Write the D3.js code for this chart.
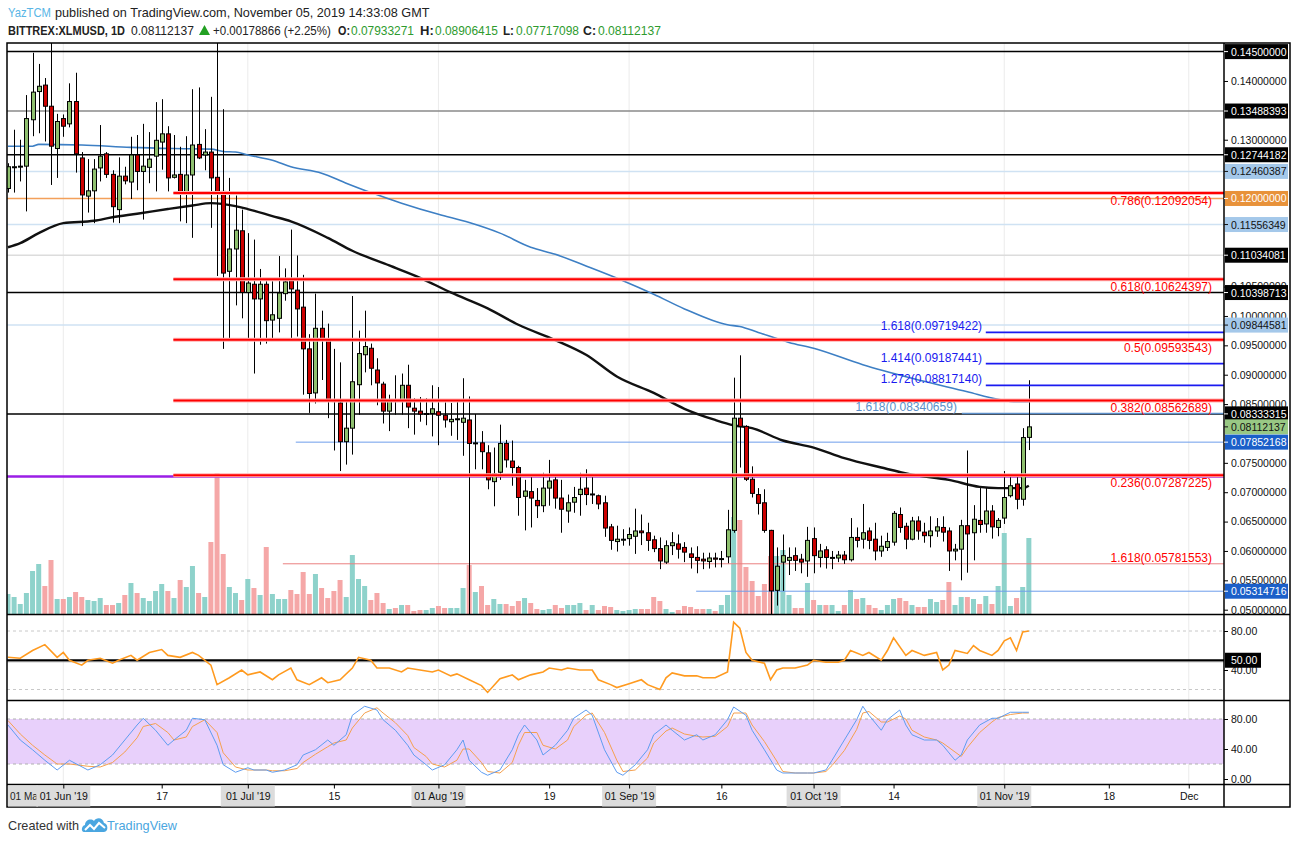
<!DOCTYPE html>
<html><head><meta charset="utf-8">
<script src="https://cdn.jsdelivr.net/npm/d3@7/dist/d3.min.js"></script>
<style>
html,body{margin:0;padding:0;background:#fff;}
svg{display:block;font-family:"Liberation Sans",Arial,sans-serif;}
</style></head><body>
<svg id="chart" width="1294" height="842"></svg>
<script>
// ---------------- DATA ----------------
const firstDay = "2019-05-23"; // daily candles, consecutive days
const opens = [
0.1217,0.1253,0.1254,0.1255,0.1334,0.1382,0.1393,0.1357,0.1285,0.1336,
0.1327,0.1365,0.1269,0.1204,0.1213,0.1252,0.1276,0.1241,0.1181,0.1238,
0.1228,0.1274,0.1246,0.1253,0.1272,0.1296,0.1310,0.1236,0.1241,0.1210,
0.1240,0.1292,0.1274,0.1279,0.1236,0.1212,0.1076,0.1114,0.1145,0.1040,
0.1054,0.1029,0.1054,0.0993,0.0996,0.1038,0.1060,0.1044,0.1015,0.0944,
0.0869,0.0979,0.0959,0.0856,0.0852,0.0786,0.0809,0.0883,0.0934,0.0945,
0.0908,0.0884,0.0838,0.0856,0.0856,0.0882,0.0843,0.0838,0.0833,0.0834,
0.0837,0.0831,0.0820,0.0824,0.0819,0.0823,0.0783,0.0784,0.0767,0.0718,
0.0734,0.0783,0.0753,0.0742,0.0693,0.0701,0.0686,0.0677,0.0707,0.0721,
0.0690,0.0668,0.0683,0.0696,0.0707,0.0697,0.0694,0.0682,0.0641,0.0616,
0.0620,0.0621,0.0625,0.0634,0.0631,0.0619,0.0604,0.0581,0.0609,0.0612,
0.0606,0.0595,0.0589,0.0586,0.0582,0.0588,0.0587,0.0590,0.0635,0.0826,
0.0812,0.0722,0.0696,0.0682,0.0635,0.0533,0.0581,0.0584,0.0592,0.0586,
0.0583,0.0621,0.0589,0.0602,0.0589,0.0588,0.0593,0.0585,0.0623,0.0620,
0.0634,0.0620,0.0600,0.0606,0.0615,0.0662,0.0642,0.0620,0.0651,0.0632,
0.0626,0.0634,0.0640,0.0634,0.0600,0.0603,0.0643,0.0631,0.0652,0.0646,
0.0668,0.0640,0.0656,0.0694,0.0714,0.0688,0.07933271];
const highs = [
0.1260,0.1317,0.1300,0.1376,0.1448,0.1429,0.1405,0.1520,0.1344,0.1343,
0.1396,0.1414,0.1279,0.1267,0.1267,0.1325,0.1279,0.1248,0.1270,0.1254,
0.1305,0.1308,0.1327,0.1313,0.1364,0.1369,0.1323,0.1308,0.1288,0.1306,
0.1386,0.1389,0.1318,0.1373,0.1520,0.1352,0.1235,0.1205,0.1181,0.1141,
0.1130,0.1080,0.1059,0.1059,0.1102,0.1081,0.1147,0.1103,0.1070,0.0969,
0.1038,0.1009,0.0987,0.0944,0.0921,0.0857,0.1034,0.0975,0.1009,0.0953,
0.0928,0.0888,0.0866,0.0899,0.0902,0.0917,0.0860,0.0862,0.0860,0.0882,
0.0879,0.0853,0.0852,0.0856,0.0894,0.0863,0.0833,0.0804,0.0780,0.0776,
0.0815,0.0789,0.0788,0.0745,0.0721,0.0727,0.0707,0.0733,0.0755,0.0726,
0.0721,0.0696,0.0709,0.0733,0.0739,0.0727,0.0696,0.0694,0.0646,0.0643,
0.0637,0.0640,0.0672,0.0662,0.0648,0.0626,0.0623,0.0618,0.0632,0.0628,
0.0615,0.0606,0.0608,0.0597,0.0597,0.0597,0.0600,0.0670,0.0895,0.0933,
0.0814,0.0744,0.0707,0.0705,0.0636,0.0606,0.0628,0.0606,0.0606,0.0595,
0.0641,0.0640,0.0612,0.0608,0.0600,0.0600,0.0600,0.0656,0.0640,0.0680,
0.0640,0.0648,0.0626,0.0631,0.0668,0.0674,0.0648,0.0658,0.0659,0.0648,
0.0659,0.0656,0.0659,0.0640,0.0612,0.0653,0.0771,0.0678,0.0707,0.0707,
0.0678,0.0656,0.0736,0.0730,0.0730,0.0809,0.08906415];
const lows = [
0.1210,0.1210,0.1229,0.1178,0.1306,0.1311,0.1297,0.1223,0.1235,0.1305,
0.1321,0.1244,0.1153,0.1176,0.1158,0.1229,0.1235,0.1159,0.1158,0.1224,
0.1199,0.1214,0.1164,0.1226,0.1212,0.1249,0.1212,0.1234,0.1161,0.1158,
0.1133,0.1267,0.1248,0.1150,0.1068,0.0944,0.0959,0.1018,0.0996,0.0959,
0.0902,0.0951,0.0953,0.0959,0.0972,0.1026,0.0962,0.0965,0.0866,0.0835,
0.0851,0.0891,0.0826,0.0771,0.0736,0.0747,0.0764,0.0832,0.0904,0.0882,
0.0848,0.0817,0.0804,0.0832,0.0832,0.0809,0.0798,0.0820,0.0814,0.0795,
0.0780,0.0810,0.0796,0.0789,0.0762,0.0480,0.0739,0.0739,0.0705,0.0676,
0.0721,0.0742,0.0711,0.0660,0.0635,0.0640,0.0656,0.0666,0.0677,0.0672,
0.0631,0.0648,0.0665,0.0660,0.0678,0.0680,0.0671,0.0624,0.0602,0.0599,
0.0609,0.0609,0.0595,0.0610,0.0600,0.0598,0.0569,0.0578,0.0593,0.0587,
0.0581,0.0570,0.0562,0.0569,0.0570,0.0572,0.0572,0.0579,0.0631,0.0742,
0.0719,0.0691,0.0662,0.0631,0.0485,0.0507,0.0532,0.0559,0.0566,0.0562,
0.0556,0.0562,0.0572,0.0570,0.0569,0.0581,0.0578,0.0582,0.0606,0.0604,
0.0603,0.0584,0.0590,0.0600,0.0609,0.0631,0.0603,0.0618,0.0619,0.0614,
0.0606,0.0624,0.0616,0.0566,0.0584,0.0550,0.0563,0.0584,0.0631,0.0631,
0.0621,0.0625,0.0646,0.0691,0.0671,0.0677,0.07717098];
const closes = [
0.1254,0.1254,0.1255,0.1336,0.1381,0.1391,0.1357,0.1289,0.1331,0.1323,
0.1365,0.1276,0.1206,0.1213,0.1250,0.1272,0.1241,0.1186,0.1238,0.1230,
0.1274,0.1246,0.1255,0.1267,0.1299,0.1310,0.1235,0.1240,0.1210,0.1240,
0.1291,0.1269,0.1279,0.1235,0.1207,0.1073,0.1114,0.1146,0.1040,0.1056,
0.1029,0.1054,0.0992,0.1002,0.1039,0.1058,0.1046,0.1012,0.0944,0.0868,
0.0979,0.0961,0.0856,0.0855,0.0786,0.0809,0.0888,0.0936,0.0948,0.0911,
0.0886,0.0838,0.0856,0.0855,0.0882,0.0845,0.0838,0.0833,0.0834,0.0842,
0.0831,0.0823,0.0824,0.0825,0.0826,0.0783,0.0784,0.0769,0.0721,0.0731,
0.0783,0.0755,0.0742,0.0691,0.0702,0.0690,0.0677,0.0707,0.0719,0.0690,
0.0671,0.0682,0.0691,0.0705,0.0696,0.0697,0.0680,0.0639,0.0618,0.0620,
0.0620,0.0628,0.0634,0.0631,0.0618,0.0604,0.0583,0.0609,0.0614,0.0603,
0.0598,0.0589,0.0584,0.0583,0.0588,0.0586,0.0587,0.0636,0.0826,0.0812,
0.0722,0.0698,0.0681,0.0635,0.0532,0.0574,0.0592,0.0589,0.0584,0.0581,
0.0618,0.0592,0.0600,0.0589,0.0589,0.0593,0.0585,0.0623,0.0618,0.0631,
0.0618,0.0600,0.0608,0.0616,0.0664,0.0640,0.0620,0.0651,0.0634,0.0626,
0.0634,0.0641,0.0632,0.0600,0.0603,0.0643,0.0629,0.0654,0.0645,0.0668,
0.0641,0.0652,0.0691,0.0711,0.0688,0.0793,0.08112137];
const volumes = [
20,17,10,21,43,50,28,54,15,15,
17,22,17,14,13,16,9,9,11,19,
31,21,16,13,23,30,23,16,34,27,
48,21,17,72,141,60,27,21,14,35,
26,19,67,20,15,15,24,20,42,20,
40,26,16,23,34,17,59,35,28,14,
21,11,5,6,9,9,3,4,4,6,
8,6,6,6,26,49,22,28,9,15,
10,10,8,13,16,11,5,4,5,9,
6,9,9,11,4,9,4,8,7,4,
3,4,5,5,5,17,13,5,2,4,
8,7,5,5,5,3,9,19,97,94,
47,33,18,30,58,58,64,19,6,6,
31,14,9,9,9,3,9,24,15,16,
9,6,4,9,15,16,13,9,7,7,
15,12,14,32,9,17,17,15,10,18,
10,28,81,8,16,27,76];

// moving averages (day offset from 2019-06-01, value)
const ma200Day = [-9,-5,-4,3,11,18,24,26,28,30,34,37,42,46,50,55,61,66,71,76,80,85,91,96,101,108,110,113,118,122,130,138,147,152,155,157];
const ma200Val = [0.1289,0.1289,0.1292,0.1291,0.1287,0.1285,0.1284,0.1280,0.1279,0.1274,0.1265,0.1254,0.1243,0.1226,0.1210,0.1192,0.1173,0.1159,0.1141,0.1117,0.1105,0.1085,0.1060,0.1037,0.1012,0.0985,0.0982,0.0972,0.0955,0.0945,0.0917,0.0894,0.0871,0.0858,0.0854,0.0854];
const ma100Day = [-9,-7,-4,0,5,8,12,17,21,24,28,30,34,37,43,47,53,58,63,69,74,80,85,90,96,101,106,109,112,117,122,127,133,138,144,149,152,156,157];
const ma100Val = [0.1117,0.1124,0.1141,0.1158,0.1162,0.1168,0.1174,0.1182,0.1188,0.1192,0.1187,0.1182,0.1170,0.1161,0.1133,0.1111,0.1086,0.1065,0.1040,0.1013,0.0985,0.0959,0.0934,0.0897,0.0869,0.0842,0.0823,0.0814,0.0809,0.0788,0.0776,0.0758,0.0742,0.0730,0.0721,0.0709,0.0707,0.0707,0.0711];

// RSI (day offset from 2019-06-01, value)
const rsiDay = [-9,-7,-5,-3,-1,0,1,3,4,6,8,9,11,12,14,16,17,19,21,22,24,25,27,29,30,32,34,35,37,38,40,42,43,45,47,48,50,51,53,55,56,58,60,61,63,64,66,68,69,71,73,74,76,78,79,81,82,84,86,87,89,90,92,94,95,97,98,99,101,103,104,106,108,109,110,111,112,114,115,116,117,119,121,122,124,126,127,128,130,131,133,134,135,137,138,140,142,143,144,145,147,148,149,151,152,153,154,155,156,157];
const rsiVal = [53,52,60,66,53,58,50,45,50,52,47,50,55,50,58,61,55,53,58,55,45,25,32,40,35,38,30,35,42,30,25,32,27,30,42,53,50,42,42,38,42,40,38,40,34,36,30,24,17,31,35,30,35,38,42,40,42,40,40,30,25,22,26,30,25,20,32,37,34,34,32,32,38,89,83,58,50,47,30,40,42,42,45,50,48,48,50,60,55,58,50,60,73,55,60,55,58,40,45,60,57,65,60,55,60,70,73,60,79,80];

// Stochastic RSI (day offset from 2019-06-01)
const stDay = [-9,-7,-5,-3,-1,1,4,6,8,10,12,13,15,17,18,20,21,23,25,26,28,30,31,33,34,36,38,39,41,43,44,46,47,49,51,52,54,56,57,59,60,62,64,65,66,68,69,71,73,74,75,77,78,80,82,83,85,86,88,90,91,93,95,96,98,99,101,103,104,106,108,109,111,112,114,116,117,119,121,122,124,125,127,129,130,131,133,134,136,137,138,140,142,143,145,146,147,149,151,152,154,156,157];
const stK = [72,52,39,25,12,25,12,19,32,52,72,81,65,45,52,65,81,79,45,19,9,15,12,12,9,12,19,32,39,52,45,59,85,97,92,79,65,45,32,19,12,19,39,52,25,9,5,12,39,59,72,52,32,45,65,81,92,85,39,9,5,19,39,59,72,65,52,59,52,59,79,96,85,65,39,12,8,8,8,8,12,25,52,79,97,85,65,79,92,72,59,52,52,45,25,32,52,72,81,81,89,89,89];
const stD = [78,60,45,32,20,20,17,16,22,36,55,70,74,62,52,56,70,79,62,35,16,12,12,12,11,11,14,22,33,43,48,52,68,88,95,88,75,58,42,30,20,16,25,40,40,22,10,8,22,45,62,62,45,40,52,70,85,88,62,25,10,12,28,48,64,68,60,57,56,57,70,88,88,72,50,24,10,8,8,8,10,18,38,66,88,90,76,76,84,80,65,56,52,48,36,30,42,62,76,82,86,88,88];

// price-axis plain tick labels (those not hidden by marker boxes in the reference)
const priceTicks = [0.05,0.055,0.06,0.065,0.07,0.075,0.085,0.09,0.095,0.10,0.105,0.13,0.14];
// price-axis marker labels
const markerVals = [0.145,0.13488393,0.12744182,0.12460387,0.12,0.11556349,0.11034081,0.10398713,0.09844581,0.08333315,0.08112137,0.07852168,0.05314716];
const markerKind = ["black","black","black","lightblue","orange","lightblue","black","black","lightblue","black","green","blue","blue"];
// fib levels
const fibRedRatio = ["0.786","0.618","0.5","0.382","0.236"];
const fibRedVal = [0.12092054,0.10624397,0.09593543,0.08562689,0.07287225];
const fibBlueRatio = ["1.618","1.414","1.272"];
const fibBlueVal = [0.09719422,0.09187441,0.08817140];
const xTickDates = ["2019-06-01","2019-06-17","2019-07-01","2019-07-15","2019-08-01","2019-08-19","2019-09-01","2019-09-16","2019-10-01","2019-10-14","2019-11-01","2019-11-18","2019-12-01"];
const xTickLabels = ["01 Jun '19","17","01 Jul '19","15","01 Aug '19","19","01 Sep '19","16","01 Oct '19","14","01 Nov '19","18","Dec"];

// ---------------- CHART ----------------
const svg = d3.select("#chart");
const DAY = 864e5;
const t0 = Date.UTC(2019,5,1);
const kDate = k => new Date(t0 + k*DAY);
const d0 = Date.parse(firstDay + "T00:00:00Z");
const dates = opens.map((_, i) => new Date(d0 + i*DAY));
const L = 7, R = 1224, RR = 1290, T = 43, B1 = 614.5, B2 = 700.5, B3 = 784.5, B4 = 807;

const x = d3.scaleUtc().domain([kDate(0), kDate(183)]).range([63.3, 1188.75]);
const y = d3.scaleLinear().domain([0.05, 0.145]).range([609.7, 51.6]);
const yVol = d3.scaleLinear().domain([0, 141]).range([614, 473]);
const yRsi = d3.scaleLinear().domain([20, 80]).range([689.5, 631]);
const ySt = d3.scaleLinear().domain([0, 80]).range([779, 719]);

const defs = svg.append("defs");
const clip = (id, x0, y0, w, h) => defs.append("clipPath").attr("id", id).append("rect").attr("x", x0).attr("y", y0).attr("width", w).attr("height", h);
clip("cMain", L, T, R - L, B1 - T);
clip("cRsi", L, B1, R - L, B2 - B1);
clip("cSt", L, B2, R - L, B3 - B2);

// header: each piece is drawn at 13px and horizontally condensed to the measured width
const hdr = svg.append("g").style("font-size", "13px");
const ht = (txt, x0, w, opts = {}) => {
  const yy = opts.y || 17;
  const t = hdr.append("text").attr("x", 0).attr("y", 0).text(txt).attr("fill", opts.fill || "#222");
  if (opts.bold) t.attr("font-weight", "bold");
  const nat = t.node().getComputedTextLength() || w;
  t.attr("transform", `translate(${x0},${yy}) scale(${Math.min(1, w / nat)},1)`);
};
ht("YazTCM", 8, 43, {fill: "#5ab6e6"});
ht("published on TradingView.com, November 05, 2019 14:33:08 GMT", 55, 375);
ht("BITTREX:XLMUSD, 1D", 8, 117, {y: 35, bold: true});
ht("0.08112137", 131, 63, {y: 35});
hdr.append("path").attr("d", "M199,35 L204.5,25 L210,35 Z").attr("fill", "#22a022");
ht("+0.00178866 (+2.25%)", 213, 118, {y: 35});
ht("O:", 338, 12, {y: 35, bold: true});
ht("0.07933271", 351, 63, {y: 35, fill: "#2e9b2e"});
ht("H:", 420, 14, {y: 35, bold: true});
ht("0.08906415", 435, 63, {y: 35, fill: "#2e9b2e"});
ht("L:", 503, 11, {y: 35, bold: true});
ht("0.07717098", 516, 63, {y: 35, fill: "#2e9b2e"});
ht("C:", 583, 13, {y: 35, bold: true});
ht("0.08112137", 598, 63, {y: 35, fill: "#2e9b2e"});

// month gridlines
const monthLines = ["2019-06-01","2019-07-01","2019-08-01","2019-09-01","2019-10-01","2019-11-01","2019-12-01"].map(s => new Date(s + "T00:00:00Z"));
svg.append("g").selectAll("line").data(monthLines).join("line")
  .attr("x1", d => x(d)).attr("x2", d => x(d)).attr("y1", T).attr("y2", B3)
  .attr("stroke", "#ebebeb").attr("stroke-width", 1);

// ---- main panel
const gMain = svg.append("g").attr("clip-path", "url(#cMain)");
const bw = 5;
// volume
gMain.append("g").selectAll("rect").data(volumes).join("rect")
  .attr("x", (d, i) => x(dates[i]) - bw / 2).attr("width", bw)
  .attr("y", d => yVol(d)).attr("height", d => yVol(0) - yVol(d))
  .attr("fill", (d, i) => closes[i] >= opens[i] ? "#8ed2cb" : "#f5a7a7");

// horizontal reference lines (full width)
const fullLines = [
  [0.145, "#000", 1.5], [0.13488393, "#8a8a8a", 1.5], [0.12744182, "#000", 1.5],
  [0.12460387, "#cfe2f3", 1.5], [0.12, "#f3a05a", 1.5], [0.11556349, "#cfe2f3", 1.5],
  [0.11034081, "#dcdcdc", 1.5], [0.10398713, "#000", 1.5], [0.09844581, "#cfe2f3", 1.5],
  [0.08333315, "#000", 1.5], [0.07268, "#9a1ee6", 2.5]];
const gLines = gMain.append("g");
fullLines.forEach(([v, c, w]) => gLines.append("line").attr("x1", L).attr("x2", R)
  .attr("y1", y(v)).attr("y2", y(v)).attr("stroke", c).attr("stroke-width", w));
// partial lines [value, colour, width, start day offset]
const partLines = [[0.07852168, "#6d9eeb", 1, 37.8], [0.05314716, "#6d9eeb", 1, 102.9], [0.05781553, "#ea8080", 1, 35.7],
  [0.08340659, "#5b8fc9", 1.5, 146.1]];
partLines.forEach(([v, c, w, k]) => gLines.append("line").attr("x1", x(kDate(k))).attr("x2", R)
  .attr("y1", y(v)).attr("y2", y(v)).attr("stroke", c).attr("stroke-width", w));

// moving averages
const line = d3.line().curve(d3.curveMonotoneX);
gMain.append("path").attr("d", line(ma200Day.map((k, i) => [x(kDate(k)), y(ma200Val[i])])))
  .attr("fill", "none").attr("stroke", "#3d7fc4").attr("stroke-width", 1.6);
gMain.append("path").attr("d", line(ma100Day.map((k, i) => [x(kDate(k)), y(ma100Val[i])])))
  .attr("fill", "none").attr("stroke", "#111").attr("stroke-width", 2.4);

// candles
const gC = gMain.append("g");
gC.selectAll("line").data(opens).join("line")
  .attr("x1", (d, i) => Math.round(x(dates[i])) + 0.5).attr("x2", (d, i) => Math.round(x(dates[i])) + 0.5)
  .attr("y1", (d, i) => y(highs[i])).attr("y2", (d, i) => y(lows[i]))
  .attr("stroke", "#000").attr("stroke-width", 1);
gC.selectAll("rect").data(opens).join("rect")
  .attr("x", (d, i) => Math.round(x(dates[i])) - 1.5).attr("width", 4)
  .attr("y", (d, i) => y(Math.max(opens[i], closes[i])))
  .attr("height", (d, i) => Math.max(1, Math.abs(y(opens[i]) - y(closes[i]))))
  .attr("fill", (d, i) => closes[i] >= opens[i] ? "#8fc06f" : "#cc0000")
  .attr("stroke", "#000").attr("stroke-width", 1);

// red fib lines
const fibStart = x(kDate(17.9));
fibRedVal.forEach((v, i) => {
  gMain.append("line").attr("x1", fibStart).attr("x2", R).attr("y1", y(v)).attr("y2", y(v))
    .attr("stroke", "#ffb3b3").attr("stroke-width", 4);
  gMain.append("line").attr("x1", fibStart).attr("x2", R).attr("y1", y(v)).attr("y2", y(v))
    .attr("stroke", "#ff0000").attr("stroke-width", 2);
  gMain.append("text").attr("x", R - 12).attr("y", y(v) + 12).attr("text-anchor", "end")
    .attr("fill", "#ff0000").style("font-size", "12px").text(`${fibRedRatio[i]}(${v.toFixed(8)})`);
});
gMain.append("text").attr("x", R - 12).attr("y", y(0.05781553) - 2).attr("text-anchor", "end")
  .attr("fill", "#ff0000").style("font-size", "12px").text("1.618(0.05781553)");
// blue fib lines
fibBlueVal.forEach((v, i) => {
  gMain.append("line").attr("x1", x(kDate(150))).attr("x2", R).attr("y1", y(v)).attr("y2", y(v))
    .attr("stroke", "#1a1af0").attr("stroke-width", 1.8);
  gMain.append("text").attr("x", x(kDate(149.4))).attr("y", y(v) - 2).attr("text-anchor", "end")
    .attr("fill", "#1a1af0").style("font-size", "12px").text(`${fibBlueRatio[i]}(${v.toFixed(8)})`);
});
gMain.append("text").attr("x", x(kDate(145.3))).attr("y", y(0.08340659) - 2).attr("text-anchor", "end")
  .attr("fill", "#5b8fc9").style("font-size", "12px").text("1.618(0.08340659)");

// ---- RSI panel
const gR = svg.append("g").attr("clip-path", "url(#cRsi)");
[80, 20].forEach(v => gR.append("line").attr("x1", L).attr("x2", R).attr("y1", yRsi(v)).attr("y2", yRsi(v))
  .attr("stroke", "#c8c8c8").attr("stroke-dasharray", "3,3"));
gR.append("line").attr("x1", L).attr("x2", R).attr("y1", yRsi(50) + 1.5).attr("y2", yRsi(50) + 1.5).attr("stroke", "#999").attr("stroke-width", 1);
gR.append("line").attr("x1", L).attr("x2", R).attr("y1", yRsi(50)).attr("y2", yRsi(50)).attr("stroke", "#000").attr("stroke-width", 2);
gR.append("path").attr("d", d3.line()(rsiDay.map((k, i) => [x(kDate(k)), yRsi(rsiVal[i])])))
  .attr("fill", "none").attr("stroke", "#ff9a1f").attr("stroke-width", 1.6);

// ---- Stoch RSI panel
const gS = svg.append("g").attr("clip-path", "url(#cSt)");
gS.append("rect").attr("x", L).attr("width", R - L).attr("y", ySt(80)).attr("height", ySt(20) - ySt(80)).attr("fill", "#e8d0fb");
[80, 20].forEach(v => gS.append("line").attr("x1", L).attr("x2", R).attr("y1", ySt(v)).attr("y2", ySt(v))
  .attr("stroke", "#b0b0b0").attr("stroke-dasharray", "3,3"));
gS.append("path").attr("d", d3.line()(stDay.map((k, i) => [x(kDate(k)), ySt(stD[i])])))
  .attr("fill", "none").attr("stroke", "#f5a04e").attr("stroke-width", 1);
gS.append("path").attr("d", d3.line()(stDay.map((k, i) => [x(kDate(k)), ySt(stK[i])])))
  .attr("fill", "none").attr("stroke", "#5e9cf0").attr("stroke-width", 1);

// ---- frame
const fr = svg.append("g").attr("stroke", "#000").attr("stroke-width", 1.5);
fr.append("rect").attr("x", L).attr("y", T).attr("width", RR - L).attr("height", B4 - T).attr("fill", "none");
fr.append("line").attr("x1", R).attr("x2", R).attr("y1", T).attr("y2", B4);
[B1, B2, B3].forEach(v => fr.append("line").attr("x1", L).attr("x2", RR).attr("y1", v).attr("y2", v));

// ---- right price axis
const axFont = "10.5px";
const pAx = svg.append("g").attr("transform", `translate(${R},0)`)
  .call(d3.axisRight(y).tickValues(priceTicks).tickSize(4).tickPadding(3).tickFormat(d3.format(".8f")));
pAx.select(".domain").remove();
pAx.selectAll("text").style("font-size", axFont).attr("fill", "#111").style("font-family", "Liberation Sans, Arial, sans-serif");
const kindStyle = {black: ["#000", "#fff"], lightblue: ["#a4c8ea", "#111"], orange: ["#e8923a", "#fff"], green: ["#98c884", "#111"], blue: ["#1b5fc9", "#fff"]};
const mk = svg.append("g");
markerVals.forEach((v, i) => {
  const [bg, fg] = kindStyle[markerKind[i]];
  mk.append("rect").attr("x", R + 1).attr("y", y(v) - 7.5).attr("width", RR - R - 3).attr("height", 15).attr("fill", bg);
  mk.append("line").attr("x1", R).attr("x2", R + 4).attr("y1", y(v)).attr("y2", y(v)).attr("stroke", fg);
  mk.append("text").attr("x", R + 7).attr("y", y(v) + 4).attr("fill", fg).style("font-size", axFont).text(v.toFixed(8));
});

// RSI axis
const rAx = svg.append("g").attr("transform", `translate(${R},0)`)
  .call(d3.axisRight(yRsi).tickValues([80, 40]).tickSize(4).tickPadding(3).tickFormat(d3.format(".2f")));
rAx.select(".domain").remove();
rAx.selectAll("text").style("font-size", axFont).attr("fill", "#111");
svg.append("rect").attr("x", R + 1).attr("y", yRsi(50) - 7.5).attr("width", 36).attr("height", 15).attr("fill", "#000");
svg.append("text").attr("x", R + 7).attr("y", yRsi(50) + 4).attr("fill", "#fff").style("font-size", axFont).text("50.00");
// Stoch axis
const sAx = svg.append("g").attr("transform", `translate(${R},0)`)
  .call(d3.axisRight(ySt).tickValues([80, 40, 0]).tickSize(4).tickPadding(3).tickFormat(d3.format(".2f")));
sAx.select(".domain").remove();
sAx.selectAll("text").style("font-size", axFont).attr("fill", "#111");

// ---- time axis
const tDates = xTickDates.map(s => new Date(s + "T00:00:00Z"));
const gx = svg.append("g");
gx.append("rect").attr("x", L + 1).attr("y", B3 + 1).attr("width", 30).attr("height", 21).attr("fill", "#dcdcdc");
gx.append("text").attr("x", 10).attr("y", B3 + 15).style("font-size", "10px").attr("fill", "#222").text("01 Ma");
tDates.forEach((d, i) => {
  if (xTickLabels[i].startsWith("01")) gx.append("rect").attr("x", x(d) - 27).attr("y", B3 + 1).attr("width", 54).attr("height", 21).attr("fill", "#dcdcdc");
});
const xAx = svg.append("g").attr("transform", `translate(0,${B3})`)
  .call(d3.axisBottom(x).tickValues(tDates).tickSize(4).tickPadding(4).tickFormat((d, i) => xTickLabels[i]));
xAx.select(".domain").remove();
xAx.selectAll("text").style("font-size", axFont).attr("fill", "#111");

// ---- footer
const ft = svg.append("g");
ft.append("text").attr("x", 8).attr("y", 830).style("font-size", "13px").attr("fill", "#333")
  .attr("textLength", 71).attr("lengthAdjust", "spacingAndGlyphs").text("Created with");
ft.append("path").attr("transform", "translate(82,816)")
  .attr("d", "M2,16 C-1,16 -1,10 3,9 C3,4 9,2 12,5 C14,1 21,1 22,7 C26,7 27,16 22,16 Z").attr("fill", "#4aa6e0");
ft.append("polyline").attr("transform", "translate(82,816)").attr("points", "3,14 8,9 12,13 17,7 23,12")
  .attr("fill", "none").attr("stroke", "#fff").attr("stroke-width", 2);
ft.append("text").attr("x", 107).attr("y", 830).style("font-size", "13px").attr("fill", "#4aa6e0")
  .attr("textLength", 70).attr("lengthAdjust", "spacingAndGlyphs").text("TradingView");
</script>
</body></html>
